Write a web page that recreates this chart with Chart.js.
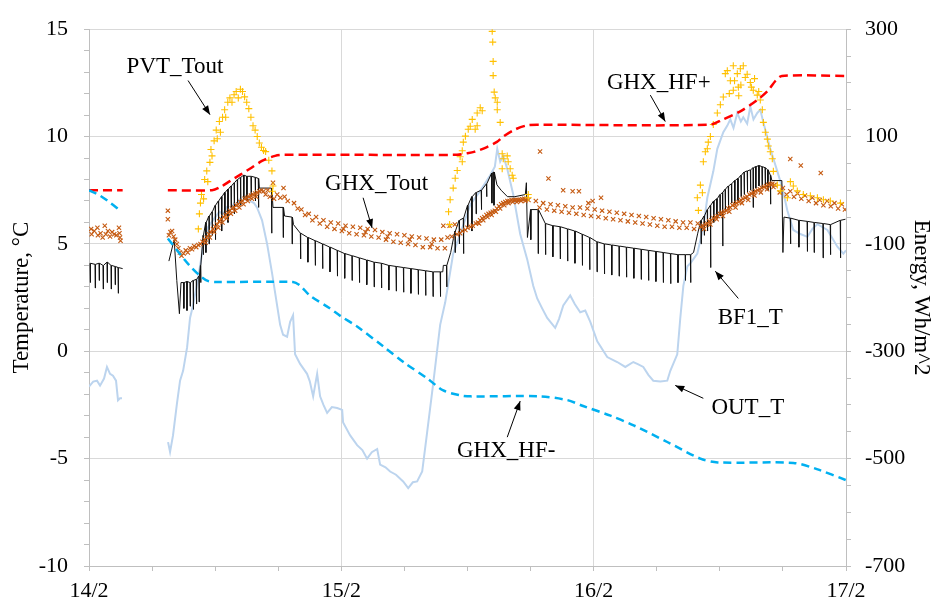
<!DOCTYPE html>
<html>
<head>
<meta charset="utf-8">
<script src="https://cdn.jsdelivr.net/npm/chart.js@4/dist/chart.umd.min.js"></script>
<style>
  html, body { margin: 0; padding: 0; background: #fff; }
  #wrap { width: 935px; height: 608px; }
</style>
</head>
<body>
<div id="wrap"><canvas id="c" width="935" height="608"></canvas></div>
<script>
// Time axis: hours since 14/2 00:00 (0 .. 72 h)
const dayLabels = ['14/2', '15/2', '16/2', '17/2'];

// Outdoor air temperature, °C  [hour, value]; null = logger gap
const outT = [
  [0,-1.64],[0.4,-1.41],[0.76,-1.37],[1.05,-1.6],[1.43,-1.27],[1.71,-0.73],[2.0,-1.05],[2.28,-1.14],[2.57,-1.37],[2.76,-2.28],[2.95,-2.19],[3.14,-2.19],
  [3.3,null],
  [7.52,-4.23],[7.71,-4.69],[7.99,-3.92],[8.37,-2.41],[8.66,-1.37],[8.95,-0.91],[9.33,0.18],[9.61,1.55],[9.9,2.14],[10.3,3.2],[10.56,3.96],[10.85,4.87],
  [11.32,5.78],[11.99,6.24],[12.4,6.5],[12.75,6.38],[13.1,6.7],[13.42,6.56],[13.8,6.9],[14.08,6.83],[14.4,7.1],[14.65,7.0],[15.0,7.3],[15.32,7.0],[15.7,6.9],[15.99,6.69],
  [16.46,6.1],[16.94,5.0],[17.41,3.64],[17.89,2.14],[18.18,1.23],[18.46,0.77],[18.84,0.68],[19.13,1.37],[19.41,1.68],[19.6,-0.14],[20.08,-0.59],
  [20.74,-1.05],[21.0,-1.4],[21.32,-2.1],[21.7,-1.05],[21.98,-2.1],[22.3,-2.5],[22.65,-2.87],[23.1,-2.6],[23.6,-2.64],[24.08,-2.73],[24.17,-3.32],
  [24.84,-3.92],[25.5,-4.37],[26.0,-4.6],[26.45,-5.0],[26.9,-4.7],[27.41,-4.55],[27.69,-5.28],[28.2,-5.4],[28.64,-5.6],[29.2,-5.75],[29.88,-6.06],
  [30.36,-6.37],[30.8,-6.1],[31.21,-6.06],[31.69,-5.6],[32.16,-3.78],[32.74,-1.5],[33.4,1.23],[33.88,2.28],[34.64,4.55],[35.3,5.46],[36.26,6.83],
  [37.21,7.47],[38.16,8.2],[38.6,8.6],[38.83,9.43],[39.11,8.83],[39.4,9.1],[39.78,8.5],[40.35,7.3],[41.01,5.46],[41.68,4.28],[42.25,3.05],[42.63,2.46],
  [43.1,2.0],[43.58,1.55],[44.34,1.09],[44.7,1.5],[45.11,2.14],[45.77,2.6],[46.2,2.2],[46.72,1.82],[47.2,1.9],[47.68,1.37],[48.34,0.46],[49.29,-0.27],
  [50.24,-0.5],[51.01,-0.73],[51.77,-0.5],[52.2,-0.6],[52.72,-0.73],[53.2,-1.1],[53.67,-1.37],[54.34,-1.41],[55.0,-1.37],[55.29,-0.91],[55.95,-0.14],
  [56.24,1.55],[56.53,3.05],[56.91,3.96],[57.2,4.1],[57.86,4.55],[58.43,5.78],[58.81,7.15],[59.38,8.38],[59.76,9.43],[60.33,10.2],[60.7,10.5],
  [61.0,10.8],[61.3,10.4],[61.66,11.1],[62.0,10.7],[62.23,10.9],[62.6,10.6],[62.9,11.4],[63.2,10.8],[63.56,11.1],[63.85,11.25],[64.14,10.66],
  [64.8,9.43],[65.47,8.38],[65.95,7.6],[66.42,6.56],[66.99,5.65],[67.66,5.46],[68.33,5.33],[68.8,5.7],[69.28,5.92],[70.23,5.65],[71.18,4.87],[71.75,4.55],[72,4.7]
];

// Borehole field temperature BF1_T: [hour, plateau °C, spike low °C] per pump cycle
const bf1Teeth = [
  [0.1,4.1,3.2],[0.57,4.05,2.95],[0.95,4.1,3.3],[1.33,4.0,2.9],[1.71,4.15,3.2],[2.09,4.0,2.9],[2.47,3.95,3.1],[2.76,3.9,2.7],[3.2,3.85,3.85],
  [3.3,null,null],
  [7.6,4.2,4.2],[8.1,5.2,5.2],[8.35,3.3,3.3],[8.6,1.75,1.75],[8.75,3.2,3.2],
  [9.0,3.2,2.0],[9.3,3.25,1.9],[9.6,3.2,2.1],[9.9,3.3,1.95],[10.2,3.35,2.2],[10.45,3.5,2.3],
  [10.6,4.0,3.2],[10.85,5.4,4.5],[11.1,6.0,4.6],[11.4,6.3,5.0],[11.7,6.5,5.4],[12.0,6.8,5.2],[12.3,7.0,6.0],[12.6,7.2,5.6],[12.9,7.4,6.3],
  [13.2,7.55,6.0],[13.5,7.7,6.7],[13.8,7.85,6.4],[14.1,8.0,6.9],[14.4,8.1,6.8],[14.7,8.2,7.1],[15.0,8.15,7.0],[15.4,8.15,7.2],[15.8,8.1,7.0],[16.1,8.05,6.7],
  [16.2,7.6,7.6],[17.35,7.6,5.5],[17.5,6.7,6.7],[18.45,6.7,5.3],[18.6,6.3,6.3],[19.3,6.25,5.0],[19.45,5.9,5.9],
  [20.1,5.5,4.3],[20.8,5.3,4.15],[21.5,5.15,4.0],[22.2,5.0,3.85],[22.9,4.85,3.7],[23.6,4.7,3.5],[24.3,4.55,3.4],[25.0,4.45,3.3],[25.7,4.35,3.2],
  [26.4,4.25,3.1],[27.1,4.15,3.0],[27.8,4.1,2.95],[28.5,4.0,2.85],[29.2,3.95,2.8],[29.9,3.9,2.75],[30.6,3.85,2.7],[31.3,3.8,2.65],[32.0,3.75,2.6],
  [32.7,3.7,2.55],[33.4,3.7,2.55],
  [33.65,3.7,3.7],[33.7,4.0,4.0],[34.0,4.0,3.0],[34.4,4.6,4.6],[34.8,5.6,4.6],[35.2,6.1,5.0],[35.6,6.2,4.55],[36.0,6.8,5.8],[36.4,7.2,5.6],
  [36.8,7.4,6.4],[37.3,7.5,6.6],[37.8,7.8,7.2],[38.3,8.3,6.9],[38.5,8.35,6.8],[38.8,7.75,7.75],[39.2,7.5,7.5],[39.8,7.2,7.2],[40.5,7.2,7.2],
  [41.5,7.3,7.3],[41.6,7.85,7.85],[41.7,5.3,5.3],
  [42.0,6.6,5.2],[42.7,6.6,4.55],[43.4,5.95,4.5],[44.1,5.85,4.4],[44.8,5.8,4.3],[45.5,5.7,4.2],[46.2,5.6,4.1],[46.9,5.45,4.0],[47.6,5.3,3.8],
  [48.3,5.1,3.7],[49.0,5.0,3.6],[49.7,4.95,3.55],[50.4,4.9,3.5],[51.1,4.85,3.45],[51.8,4.8,3.4],[52.5,4.75,3.35],[53.2,4.7,3.3],[53.9,4.65,3.25],
  [54.6,4.6,3.2],[55.3,4.55,3.15],[56.0,4.5,3.2],[56.7,4.5,3.3],
  [57.2,4.5,3.2],[57.5,4.6,4.6],[57.9,5.5,5.5],[58.2,6.1,5.0],[58.5,6.3,5.4],[58.8,6.6,5.6],[59.1,6.8,3.9],[59.4,7.0,6.0],[59.7,7.1,6.2],
  [60.0,7.3,6.3],[60.25,7.4,4.9],[60.5,7.55,6.5],[60.8,7.7,6.6],[61.1,7.8,6.9],[61.4,7.95,6.9],[61.7,8.05,7.0],[62.0,8.2,7.2],[62.3,8.35,7.3],
  [62.6,8.4,7.4],[62.9,8.45,7.5],[63.15,8.55,6.7],[63.4,8.6,7.6],[63.7,8.65,7.7],[64.0,8.6,7.6],[64.3,8.55,7.6],[64.55,8.45,7.5],[64.8,8.2,6.85],
  [64.95,7.95,7.95],[65.9,7.95,7.95],[66.0,4.6,4.6],[66.1,6.25,6.25],
  [66.7,6.2,5.0],[67.5,6.1,4.85],[68.3,6.05,4.65],[68.95,6.0,4.6],[69.8,5.95,4.35],[70.5,5.9,4.5],[71.45,6.1,4.35],[71.95,6.15,6.15]
];

// Ground heat exchanger outlet temperature, °C
const ghxTout = [
  [0.2,5.7],[0.25,5.45],[0.5,5.6],[0.8,5.75],[0.85,5.4],[1.1,5.5],[1.3,5.3],[1.5,5.85],[1.6,5.45],[1.8,5.6],[2.0,5.35],[2.2,5.55],[2.4,5.45],
  [2.6,5.4],[2.85,5.75],[2.9,5.5],[2.95,5.3],[3.0,5.15],
  [7.5,6.55],[7.5,6.15],[7.6,5.4],[7.75,5.55],[7.9,5.6],[8.05,5.35],[8.2,5.2],[8.35,5.0],[8.5,4.8],[8.65,4.6],[8.8,4.45],[9.0,4.55],[9.2,4.7],
  [9.4,4.6],[9.6,4.8],[9.8,4.75],[10.0,4.9],[10.2,4.85],[10.4,4.95],[10.6,5.0],[10.8,5.1],[11.0,5.2],[11.2,5.3],[11.4,5.45],[11.6,5.55],[11.8,5.7],
  [12.0,5.8],[12.2,5.9],[12.4,6.05],[12.6,6.15],[12.8,6.25],[13.0,6.35],[13.2,6.45],[13.4,6.55],[13.6,6.65],[13.8,6.7],[14.0,6.8],[14.2,6.85],
  [14.4,6.95],[14.6,7.0],[14.8,7.1],[15.0,7.15],[15.2,7.2],[15.4,7.25],[15.6,7.3],[15.8,7.35],[16.0,7.4],[16.2,7.45],[16.4,7.5],[16.6,7.45],
  [11.1,5.05],[11.5,5.3],[11.9,5.55],[12.3,5.75],[12.7,6.0],[13.1,6.2],[13.5,6.4],[13.9,6.55],[14.3,6.7],[14.7,6.85],[15.1,7.0],[15.5,7.1],[15.9,7.2],
  [16.8,7.3],[17.0,7.5],[17.2,7.2],[17.5,7.85],[17.6,7.1],[17.9,7.3],[18.2,7.15],[18.5,7.6],[18.6,7.2],[18.9,7.0],
  [19.5,6.9],[20.2,6.6],[20.9,6.4],[21.6,6.25],[22.3,6.1],[23.0,6.0],[23.7,5.95],[24.4,5.85],[25.1,5.8],[25.8,5.75],[26.5,5.7],[27.2,5.65],
  [27.9,5.55],[28.6,5.5],[29.3,5.45],[30.0,5.4],[30.7,5.35],[31.4,5.3],[32.1,5.25],[32.8,5.2],[33.5,5.2],
  [19.85,6.65],[20.55,6.35],[21.25,6.1],[21.95,5.95],[22.65,5.8],[23.35,5.7],[24.05,5.6],[24.75,5.5],[25.45,5.45],[26.15,5.4],[26.85,5.35],
  [27.55,5.3],[28.25,5.2],[28.95,5.1],[29.65,5.05],[30.35,5.0],[31.05,4.95],[31.75,4.85],[32.45,4.85],[33.15,4.8],[33.85,4.8],
  [24.2,5.7],[26.3,5.55],[28.4,5.35],[30.5,5.2],[32.6,5.0],[33.7,5.85],
  [34.1,5.3],[34.3,5.85],[34.5,5.35],[34.8,5.9],[35.0,5.45],[35.3,5.5],[35.5,5.6],[35.8,5.65],[36.0,5.75],[36.3,5.8],[36.5,5.85],[36.8,5.95],
  [37.0,6.0],[37.2,6.1],[37.4,6.2],[37.6,6.25],[37.8,6.35],[38.0,6.4],[38.2,6.45],[38.4,6.5],[38.6,6.55],[38.8,6.65],[39.0,6.75],[39.2,6.85],
  [39.4,6.9],[39.6,6.95],[39.8,7.0],[40.0,7.0],[40.2,7.05],[40.4,7.05],[40.6,7.05],[40.8,7.05],[41.0,7.06],[41.2,7.08],[41.4,7.1],[41.6,7.1],[41.8,7.05],
  [37.1,5.95],[37.5,6.1],[37.9,6.25],[38.3,6.35],[38.7,6.5],[39.1,6.65],[39.5,6.8],[39.9,6.9],[40.3,6.95],[40.7,6.95],[41.1,7.0],[41.5,7.0],
  [42.5,7.0],[43.2,6.9],[43.9,6.85],[44.6,6.8],[45.3,6.75],[46.0,6.7],[46.7,6.7],[47.4,6.65],[48.1,6.6],[48.8,6.55],[49.5,6.5],[50.2,6.45],
  [50.9,6.4],[51.6,6.35],[52.3,6.3],[53.0,6.25],[53.7,6.2],[54.4,6.15],[55.1,6.1],[55.8,6.05],[56.5,6.0],[57.2,6.0],[57.9,5.95],
  [42.85,6.7],[43.55,6.6],[44.25,6.55],[44.95,6.5],[45.65,6.45],[46.35,6.4],[47.05,6.35],[47.75,6.3],[48.45,6.25],[49.15,6.2],[49.85,6.15],
  [50.55,6.1],[51.25,6.05],[51.95,6.0],[52.65,5.95],[53.35,5.9],[54.05,5.85],[54.75,5.8],[55.45,5.8],[56.15,5.75],[56.85,5.75],[57.55,5.7],
  [42.9,9.3],[43.7,8.05],[45.1,7.5],[46.0,7.45],[46.6,7.45],[47.5,6.9],[47.9,7.0],[48.7,7.15],
  [58.2,5.8],[58.4,5.85],[58.6,5.9],[58.8,5.95],[59.0,6.05],[59.2,6.1],[59.4,6.2],[59.6,6.25],[59.8,6.3],[60.0,6.4],[60.2,6.45],[60.4,6.5],
  [60.6,6.55],[60.8,6.65],[61.0,6.7],[61.2,6.8],[61.4,6.85],[61.6,6.9],[61.8,6.95],[62.0,7.05],[62.2,7.1],[62.4,7.15],[62.6,7.2],[62.8,7.3],
  [63.0,7.35],[63.2,7.4],[63.4,7.45],[63.6,7.5],[63.8,7.55],[64.0,7.6],[64.2,7.65],[64.4,7.7],[64.6,7.75],[64.8,7.8],[65.0,7.8],[65.2,7.75],
  [58.5,5.7],[59.1,5.9],[59.7,6.15],[60.3,6.3],[60.9,6.5],[61.5,6.7],[62.1,6.9],[62.7,7.05],[63.3,7.25],[63.9,7.4],[64.5,7.55],[65.1,7.65],
  [66.0,7.6],[66.7,7.45],[67.4,7.35],[68.1,7.25],[68.8,7.15],[69.5,7.05],[70.2,7.0],[70.9,6.9],[71.6,6.85],
  [65.7,7.4],[66.35,7.3],[67.05,7.2],[67.75,7.1],[68.45,7.0],[69.15,6.9],[69.85,6.8],[70.55,6.75],[71.25,6.65],[71.9,6.6],
  [66.7,8.95],[67.7,8.65],[69.6,8.3]
];

// PVT collector outlet temperature, °C
const pvtTout = [
  [10.4,5.7],[10.5,6.4],[10.6,6.9],[10.7,7.3],[10.9,7.1],[11.0,8.0],[11.2,8.4],[11.3,7.9],[11.5,8.8],[11.6,9.4],[11.7,9.1],[11.9,9.8],[12.1,10.3],
  [12.2,9.9],[12.4,10.7],[12.5,10.2],[12.7,10.9],[12.9,11.25],[13.0,10.9],[13.2,11.6],[13.4,11.8],[13.6,11.6],[13.8,11.95],[14.0,12.1],[14.2,11.8],
  [14.4,12.2],[14.6,12.1],[14.8,11.85],[15.0,11.6],[15.2,11.3],[15.4,10.9],[15.6,10.5],[15.8,10.3],[16.0,10.0],[16.2,9.7],[16.4,9.5],[16.6,9.35],
  [16.8,9.3],[17.1,8.9],[17.4,8.4],[17.5,7.7],[17.45,7.45],
  [34.2,6.5],[34.3,5.9],[34.35,7.06],[34.64,7.6],[34.83,8.06],[35.02,8.42],[35.3,9.06],[35.5,8.83],[35.5,9.34],[35.6,9.74],[35.8,10.02],[36.07,10.34],
  [36.26,10.48],[36.45,10.8],[36.73,10.34],[36.92,11.1],[36.92,10.5],[37.21,11.34],[37.4,11.2],[38.35,14.9],[38.4,14.4],[38.44,13.5],[38.44,12.84],
  [38.54,12.07],[38.64,11.8],[38.83,11.6],[38.83,11.25],[39.11,10.66],[39.3,9.2],[39.4,8.97],[39.3,8.5],[39.78,9.1],[39.87,8.83],[40.06,8.5],
  [40.25,8.2],[40.35,8.06],[41.78,7.3],[41.78,7.15],
  [57.86,7.15],[57.96,6.56],[58.15,7.74],[58.34,7.38],[58.43,8.83],[58.62,9.29],[58.81,9.43],[58.9,9.74],[59.1,10.0],[59.38,10.56],[59.76,11.1],
  [60.05,11.48],[60.33,11.84],[60.52,12.93],[60.71,13.07],[61.0,12.6],[61.28,13.3],[61.28,12.16],[61.66,12.93],[61.76,12.3],[61.95,13.16],
  [62.23,13.3],[62.42,12.75],[62.9,12.52],[63.18,12.16],[63.56,11.93],[63.85,11.7],[64.04,11.25],[64.14,10.66],[64.33,10.2],[64.52,9.88],
  [64.61,9.56],[64.8,9.29],[64.99,8.97],[65.09,8.38],[65.47,7.74],[65.76,7.47],[66.42,7.15],[66.71,7.9],[66.99,7.7],[67.37,7.47],[67.94,7.3],
  [68.61,7.24],[69.28,7.15],[69.85,7.06],[70.51,7.0],[71.47,6.9],
  [60.9,12.0],[61.4,12.6],[62.0,12.4],[62.6,12.9],[63.0,12.3],[63.3,12.7],[63.7,12.1],[61.8,11.9]
];

// Cumulative ground heat exchanger energy, Wh/m^2
const ghxHfPlus = [
  [0,0],[3.2,0],[3.3,null],[7.5,0],[11.7,0],[12.5,6],[13.4,17],[14.4,29],[15.3,40],[16.5,55],[17.7,64],[18.5,66],[35.0,66],[36.0,69],
  [36.7,72],[37.8,80],[38.8,90],[39.4,100],[40.5,113],[41.7,121],[43.0,122],[59.0,122],[60.3,132],[61.95,147],[63.56,168],[64.6,186],
  [65.3,204],[65.9,213],[72,213]
];
const ghxHfMinus = [
  [0,0],[1.05,-10],[2.0,-23],[2.95,-38],[3.3,null],[7.5,-90],[8.5,-115],[9.6,-141],[10.6,-160],[11.3,-169],[12.0,-171],[19.4,-171],
  [20.1,-178],[21.0,-196],[22.9,-220],[23.9,-234],[25.5,-254],[28.0,-291],[29.9,-320],[32.2,-351],[33.7,-373],[35.3,-382],[36.3,-384],
  [42.9,-384],[45.5,-391],[47.0,-402],[49.6,-420],[51.8,-438],[55.0,-469],[58.15,-500],[59.8,-507],[67.0,-508],[69.3,-520],[72,-540]
];

// Callout labels in data coordinates (hour, °C): text centre, arrow tail, arrow head
const callouts = [
  { text: 'PVT_Tout', at: [8.18, 13.25], from: [9.42, 12.61], to: [11.51, 11.02] },
  { text: 'GHX_Tout', at: [27.36, 7.81], from: [26.07, 7.15], to: [26.93, 5.74] },
  { text: 'GHX_HF+',  at: [54.19, 12.5], from: [53.39, 11.93], to: [54.81, 10.7] },
  { text: 'BF1_T',    at: [62.9, 1.53],  from: [61.76, 2.46], to: [59.57, 3.73] },
  { text: 'OUT_T',    at: [62.66, -2.64], from: [58.43, -2.19], to: [55.76, -1.59] },
  { text: 'GHX_HF-',  at: [39.68, -4.62], from: [39.78, -4.0], to: [41.01, -2.32] }
];

const toXY = arr => arr.map(([x, y]) => ({ x, y }));

// Each pump cycle: plateau, sharp drop to the low value, recovery to the plateau
function cyclePoints(teeth) {
  const pts = [];
  for (const [h, top, low] of teeth) {
    if (top === null) { pts.push({ x: h, y: null }); continue; }
    pts.push({ x: h, y: top });
    if (low !== top) {
      pts.push({ x: h + 0.02, y: low });
      pts.push({ x: h + 0.05, y: top });
    }
  }
  return pts;
}

const SERIF = '"Liberation Serif", "Times New Roman", serif';
Chart.defaults.font.family = SERIF;
Chart.defaults.color = '#000';

const GRID = '#d9d9d9';
const AXIS = '#bfbfbf';

const calloutPlugin = {
  id: 'callouts',
  afterDatasetsDraw(chart) {
    const ctx = chart.ctx;
    const xs = chart.scales.x, ys = chart.scales.yT;
    ctx.save();
    ctx.font = '23px ' + SERIF;
    ctx.fillStyle = '#000';
    ctx.strokeStyle = '#000';
    ctx.lineWidth = 1;
    ctx.textAlign = 'center';
    ctx.textBaseline = 'middle';
    for (const c of callouts) {
      ctx.fillText(c.text, xs.getPixelForValue(c.at[0]), ys.getPixelForValue(c.at[1]));
      const x1 = xs.getPixelForValue(c.from[0]), y1 = ys.getPixelForValue(c.from[1]);
      const x2 = xs.getPixelForValue(c.to[0]), y2 = ys.getPixelForValue(c.to[1]);
      ctx.beginPath(); ctx.moveTo(x1, y1); ctx.lineTo(x2, y2); ctx.stroke();
      const a = Math.atan2(y2 - y1, x2 - x1), L = 9, W = 3.5;
      const c0 = Math.cos(a), s0 = Math.sin(a);
      ctx.beginPath();
      ctx.moveTo(x2, y2);
      ctx.lineTo(x2 - L * c0 + W * s0, y2 - L * s0 - W * c0);
      ctx.lineTo(x2 - L * c0 - W * s0, y2 - L * s0 + W * c0);
      ctx.closePath();
      ctx.fill();
    }
    ctx.restore();
  }
};

new Chart(document.getElementById('c'), {
  type: 'line',
  data: {
    datasets: [
      {
        label: 'GHX_HF-', yAxisID: 'yE', order: 0,
        data: toXY(ghxHfMinus),
        borderColor: '#00b0f0', borderWidth: 2.5, borderDash: [8, 5],
        pointRadius: 0, tension: 0.3, spanGaps: false
      },
      {
        label: 'GHX_HF+', yAxisID: 'yE', order: 1,
        data: toXY(ghxHfPlus),
        borderColor: '#ff0000', borderWidth: 2.5, borderDash: [9, 5],
        pointRadius: 0, tension: 0.3, spanGaps: false
      },
      {
        label: 'PVT_Tout', yAxisID: 'yT', order: 2,
        data: toXY(pvtTout), showLine: false,
        pointStyle: 'cross', pointRadius: 3.5, pointBorderWidth: 1.1,
        borderColor: '#ffc000', backgroundColor: '#ffc000'
      },
      {
        label: 'GHX_Tout', yAxisID: 'yT', order: 3,
        data: toXY(ghxTout), showLine: false,
        pointStyle: 'crossRot', pointRadius: 3, pointBorderWidth: 1.1,
        borderColor: '#c55a11', backgroundColor: '#c55a11'
      },
      {
        label: 'BF1_T', yAxisID: 'yT', order: 4,
        data: cyclePoints(bf1Teeth),
        borderColor: '#111', borderWidth: 1, pointRadius: 0, tension: 0, spanGaps: false
      },
      {
        label: 'OUT_T', yAxisID: 'yT', order: 5,
        data: toXY(outT),
        borderColor: '#bcd4ee', borderWidth: 2, pointRadius: 0, tension: 0, spanGaps: false
      }
    ]
  },
  options: {
    responsive: false,
    animation: false,
    devicePixelRatio: 1,
    layout: { padding: { top: 17, left: 0, right: 0, bottom: 0 } },
    plugins: { legend: { display: false }, tooltip: { enabled: false } },
    scales: {
      x: {
        type: 'linear', min: 0, max: 72,
        afterFit: s => { s.height = 42; },
        border: { color: AXIS, width: 1 },
        grid: {
          color: ctx => (ctx.tick && ctx.tick.value % 24 === 0 && ctx.tick.value > 0 && ctx.tick.value < 72) ? GRID : 'rgba(0,0,0,0)',
          tickColor: AXIS, tickLength: 5, lineWidth: 1
        },
        ticks: {
          stepSize: 6, autoSkip: false, maxRotation: 0, padding: 7,
          font: { size: 22 },
          callback: v => (v % 24 === 0 ? dayLabels[v / 24] : '')
        }
      },
      yT: {
        type: 'linear', position: 'left', min: -10, max: 15,
        afterFit: s => { s.width = 89; },
        border: { color: AXIS, width: 1 },
        grid: {
          color: ctx => (ctx.tick && ctx.tick.value % 5 === 0) ? GRID : 'rgba(0,0,0,0)',
          tickColor: AXIS, tickLength: 5, lineWidth: 1
        },
        ticks: {
          stepSize: 1, autoSkip: false, padding: 16,
          font: { size: 22 },
          callback: v => (v % 5 === 0 ? String(v) : '')
        },
        title: { display: true, text: 'Temperature, °C', font: { size: 23 }, padding: { top: 8, bottom: 0 } }
      },
      yE: {
        type: 'linear', position: 'right', min: -700, max: 300,
        afterFit: s => { s.width = 89; },
        border: { color: AXIS, width: 1 },
        grid: { drawOnChartArea: false, tickColor: AXIS, tickLength: 5 },
        ticks: {
          stepSize: 50, autoSkip: false, padding: 14,
          font: { size: 22 },
          callback: v => ((v + 700) % 200 === 0 ? String(v) : '')
        },
        title: { display: true, text: 'Energy, Wh/m^2', font: { size: 23 }, padding: { top: 0, bottom: 0 } }
      }
    }
  },
  plugins: [calloutPlugin]
});
</script>
</body>
</html>
